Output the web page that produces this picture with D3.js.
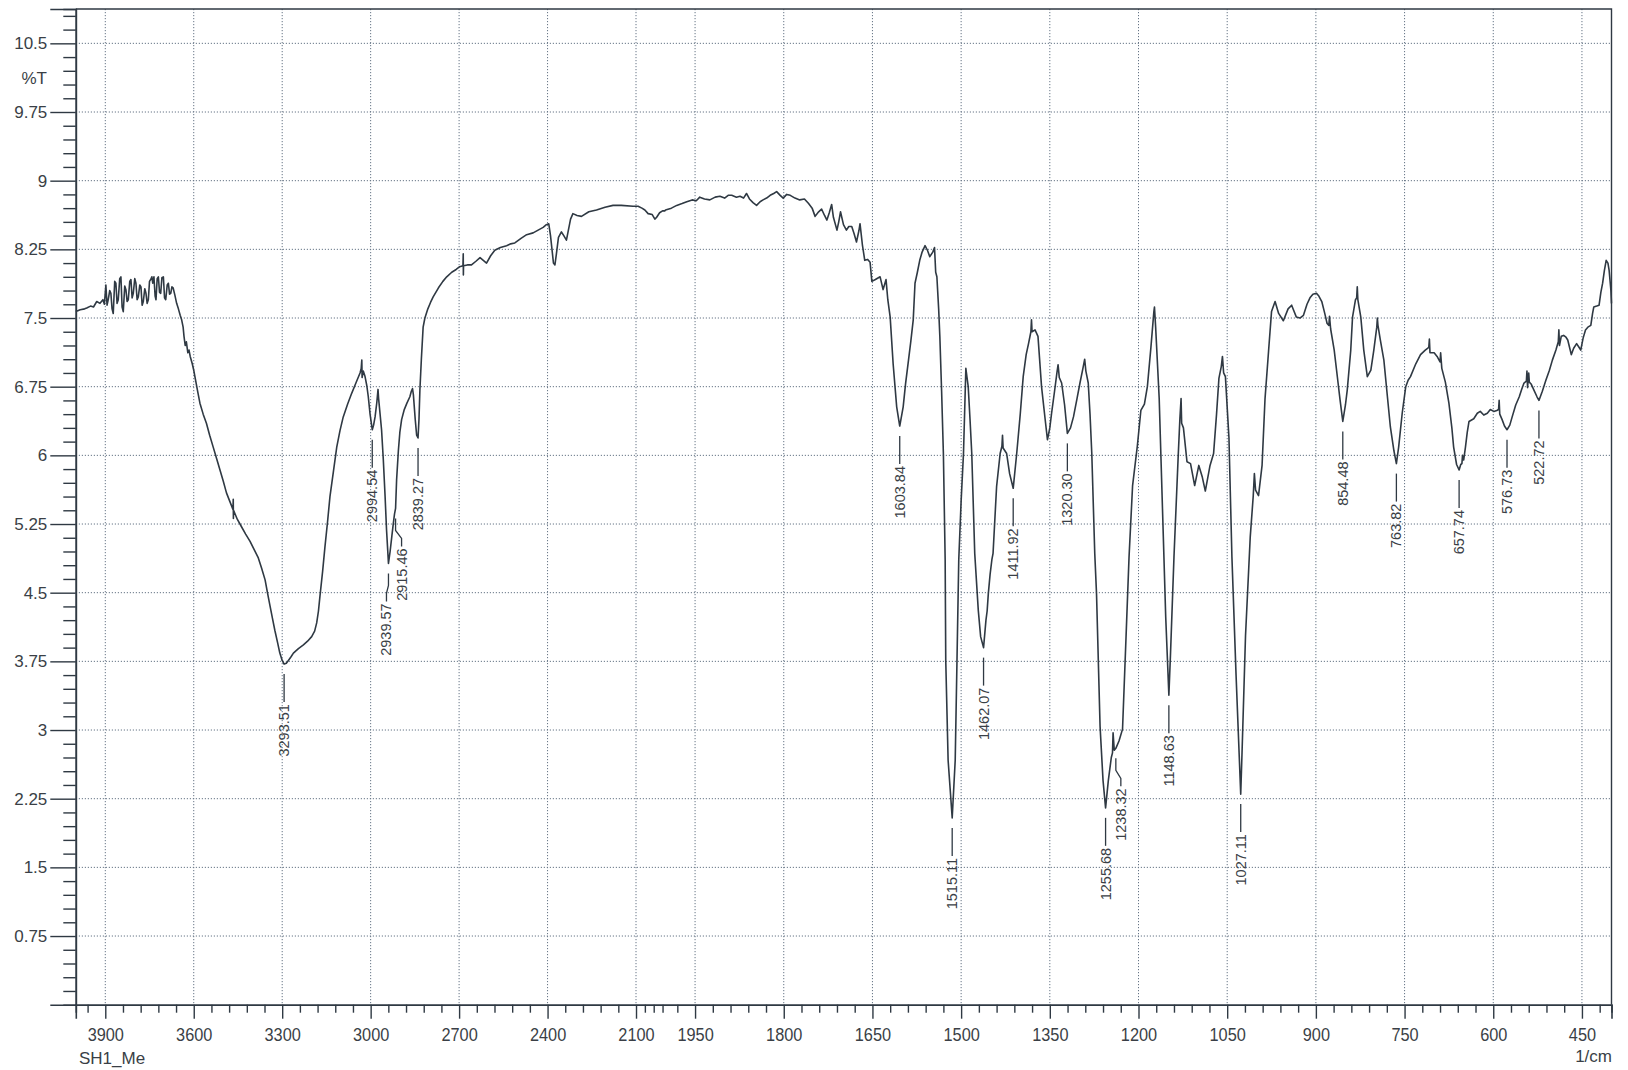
<!DOCTYPE html>
<html>
<head>
<meta charset="utf-8">
<script src="https://cdn.jsdelivr.net/npm/d3@7"></script>
<style>
  html, body { margin: 0; padding: 0; background: #ffffff; }
  svg { display: block; }
  text { font-family: "Liberation Sans", Arial, sans-serif; fill: #3a3f46; }
</style>
</head>
<body>
<svg id="chart" width="1628" height="1070"></svg>
<script>
// ---- Spectrum data: [wavenumber (1/cm), %T] ----
// O–H / C–H stretching region
const spectrumHigh = [
  [4000,7.57],[3985,7.59],[3970,7.60],[3963,7.61],[3950,7.63],[3940,7.62],[3929,7.68],[3918,7.66],[3908,7.70],[3903,7.65],
  [3898,7.86],[3894,7.64],[3890,7.70],[3885,7.80],[3881,7.77],[3877,7.60],[3873,7.55],[3868,7.90],[3864,7.88],[3860,7.66],
  [3856,7.70],[3851,7.93],[3847,7.95],[3843,7.62],[3839,7.57],[3834,7.85],[3830,7.81],[3826,7.68],[3822,7.70],[3817,7.90],
  [3813,7.92],[3809,7.72],[3805,7.77],[3800,7.93],[3796,7.88],[3792,7.70],[3788,7.73],[3783,7.86],[3779,7.84],[3775,7.64],
  [3771,7.68],[3766,7.82],[3762,7.77],[3758,7.66],[3754,7.70],[3750,7.90],[3746,7.92],[3742,7.95],[3739,7.88],[3735,7.95],
  [3731,7.74],[3728,7.70],[3724,7.93],[3720,7.95],[3716,7.78],[3712,7.77],[3708,7.94],[3703,7.95],[3699,7.72],[3695,7.70],
  [3690,7.86],[3686,7.88],[3682,7.76],[3678,7.77],[3674,7.84],[3670,7.83],
  [3664,7.75],[3658,7.66],[3652,7.60],[3646,7.53],[3641,7.48],[3636,7.40],[3633,7.30],[3629,7.20],[3625,7.24],[3620,7.12],
  [3616,7.15],[3612,7.08],[3605,7.00],[3600,6.93],[3596,6.86],[3588,6.72],[3579,6.57],[3568,6.45],[3557,6.35],[3546,6.22],
  [3534,6.09],[3522,5.96],[3511,5.84],[3500,5.72],[3489,5.59],[3478,5.50],[3467,5.41],[3466,5.52],[3465.5,5.31],[3465,5.40],
  [3452,5.30],[3438,5.22],[3424,5.14],[3409,5.06],[3395,4.97],[3381,4.88],[3370,4.77],[3358,4.64],[3350,4.50],[3341,4.35],
  [3333,4.22],[3325,4.09],[3316,3.96],[3308,3.84],[3300,3.76],[3293.51,3.72],[3286,3.73],[3279,3.76],[3270,3.80],[3262,3.84],
  [3245,3.89],[3228,3.93],[3214,3.97],[3200,4.02],[3190,4.08],[3183,4.17],[3177,4.30],[3172,4.46],[3163,4.73],[3155,5.00],
  [3146,5.28],[3138,5.55],[3126,5.83],[3115,6.09],[3104,6.27],[3093,6.42],[3078,6.56],[3064,6.68],[3050,6.79],[3036,6.90],
  [3032,6.95],[3030,7.04],[3029,6.85],[3025,6.92],[3019,6.86],[3013,6.76],[3008,6.64],[3002,6.45],[2994.54,6.28],[2990,6.33],
  [2985,6.42],[2979,6.58],[2975,6.72],[2973,6.62],[2968,6.45],[2963,6.28],[2957,5.95],[2951,5.55],[2946,5.18],[2939.57,4.82],
  [2934,4.95],[2928,5.12],[2923,5.26],[2919,5.36],[2915.46,5.42],[2912,5.73],[2906,6.05],[2901,6.25],[2895,6.39],[2886,6.50],
  [2877,6.57],[2867,6.64],[2862,6.70],[2858,6.73],[2855,6.66],[2849,6.40],[2844,6.22],[2839.27,6.19],[2836,6.40],[2833,6.71],
  [2828,7.05],[2822,7.40],[2816,7.50],[2806,7.60],[2797,7.67],[2788,7.73],[2770,7.83],[2755,7.90],[2742,7.95],[2725,8.00],
  [2710,8.03],[2698,8.06],[2687,8.07],[2686,8.20],[2685.5,7.97],[2685,8.07],[2672,8.08],[2658,8.08],[2643,8.12],[2629,8.16],
  [2618,8.13],[2607,8.10],[2593,8.18],[2579,8.24],[2560,8.27],[2539,8.29],[2525,8.31],[2511,8.32],[2490,8.37],[2471,8.41],
  [2449,8.43],[2432,8.46],[2415,8.49],[2404,8.52],[2396,8.53],[2390,8.40],[2385,8.25],[2380,8.10],[2375,8.08],[2370,8.20],
  [2363,8.38],[2353,8.44],[2345,8.40],[2336,8.35],[2330,8.45],[2322,8.58],[2314,8.64],[2300,8.62],[2285,8.61],[2260,8.66],
  [2234,8.68],[2205,8.71],[2178,8.73],[2150,8.73],[2110,8.72],[2093,8.72],[2080,8.70],[2070,8.68],[2059,8.64],[2045,8.63],
  [2036,8.58],[2030,8.60],[2020,8.65],[2010,8.67],[2002,8.67]
];

// Fingerprint region
const spectrumLow = [
  [2000,8.68],[1990,8.70],[1981,8.73],[1972,8.75],[1964,8.77],[1955,8.79],[1948,8.78],[1942,8.82],[1934,8.80],[1925,8.79],
  [1916,8.82],[1908,8.83],[1900,8.81],[1894,8.84],[1888,8.84],[1880,8.82],[1874,8.83],[1868,8.81],[1863,8.86],[1858,8.80],
  [1852,8.76],[1846,8.73],[1840,8.77],[1835,8.79],[1829,8.81],[1823,8.84],[1817,8.86],[1812,8.88],[1806,8.84],[1801,8.81],
  [1795,8.85],[1789,8.84],[1781,8.81],[1773,8.79],[1765,8.80],[1758,8.75],[1752,8.70],[1747,8.61],[1741,8.66],[1736,8.69],
  [1731,8.62],[1727,8.57],[1723,8.65],[1719,8.74],[1716,8.60],[1710,8.46],[1707,8.55],[1704,8.66],[1699,8.52],[1694,8.46],
  [1690,8.50],[1685,8.50],[1681,8.42],[1677,8.33],[1673,8.45],[1671,8.53],[1667,8.30],[1663,8.13],[1658,8.14],[1654,8.11],
  [1651,7.90],[1645,7.92],[1637,7.95],[1632,7.81],[1627,7.92],[1624,7.70],[1620,7.51],[1615,7.00],[1609,6.53],[1603.84,6.32],
  [1598,6.53],[1594,6.78],[1589,7.04],[1585,7.25],[1581,7.48],[1578,7.88],[1574,8.00],[1570,8.13],[1566,8.22],[1561,8.29],
  [1557,8.24],[1553,8.17],[1548,8.22],[1545,8.27],[1543,8.00],[1541,7.95],[1538,7.60],[1536,7.30],[1533,6.70],[1530,6.02],
  [1527,4.86],[1526,3.76],[1522,2.67],[1515.11,2.04],[1510,2.67],[1507,3.76],[1504,4.86],[1500,5.50],[1496,6.02],[1492,6.95],
  [1490,6.85],[1488,6.75],[1485,6.40],[1482,6.02],[1477,4.93],[1471,4.31],[1467,4.02],[1462.07,3.90],[1458,4.20],[1456,4.30],
  [1454,4.49],[1451,4.70],[1448,4.86],[1446,4.93],[1440,5.66],[1434,6.02],[1431,6.10],[1430,6.22],[1429,6.08],[1423,6.02],
  [1418,5.80],[1411.92,5.64],[1406,6.02],[1400,6.45],[1395,6.86],[1390,7.10],[1386,7.22],[1382,7.35],[1381,7.48],[1380,7.35],
  [1375,7.37],[1370,7.30],[1364,6.75],[1358,6.40],[1354,6.17],[1350,6.30],[1347,6.46],[1342,6.70],[1338,6.90],[1336,6.99],
  [1334,6.85],[1330,6.79],[1325,6.55],[1320.30,6.24],[1315,6.30],[1310,6.42],[1304,6.62],[1299,6.79],[1294,6.95],[1291,7.05],
  [1289,6.92],[1285,6.79],[1282,6.45],[1279,6.02],[1274,4.93],[1271,4.49],[1265,3.04],[1260,2.45],[1255.68,2.15],[1251,2.45],
  [1246,2.70],[1244,2.75],[1243,2.97],[1241,2.78],[1238.32,2.80],[1233,2.88],[1227,3.01],[1221,4.03],[1216,4.89],[1210,5.67],
  [1202,6.10],[1196,6.49],[1190,6.56],[1185,6.75],[1179,7.18],[1174,7.57],[1173,7.62],[1171,7.40],[1165,6.62],[1160,5.54],
  [1154,4.24],[1148.63,3.38],[1146,3.81],[1140,4.89],[1133,5.97],[1130,6.40],[1128,6.62],[1127,6.35],[1124,6.30],[1118,5.93],
  [1112,5.91],[1105,5.67],[1098,5.89],[1092,5.76],[1087,5.61],[1079,5.89],[1073,6.02],[1068,6.45],[1064,6.84],[1060,6.97],
  [1058,7.08],[1056,6.90],[1053,6.86],[1047,6.19],[1042,4.89],[1035,3.60],[1027.11,2.30],[1025,2.73],[1019,4.03],[1011,5.11],
  [1006,5.55],[1004,5.80],[1002,5.62],[997,5.56],[991,5.89],[986,6.62],[980,7.14],[975,7.57],[969,7.68],[963,7.55],
  [955,7.47],[947,7.60],[941,7.64],[933,7.51],[927,7.50],[921,7.53],[915,7.65],[910,7.72],[905,7.76],[899,7.77],
  [895,7.74],[890,7.68],[885,7.55],[881,7.44],[878,7.42],[877,7.52],[875,7.38],[869,7.15],[863,6.82],[859,6.60],
  [854.48,6.37],[850,6.55],[847,6.71],[841,7.15],[838,7.51],[833,7.70],[831,7.72],[830,7.84],[829,7.70],[824,7.51],
  [819,7.15],[813,6.86],[807,6.93],[802,7.15],[797,7.40],[796,7.50],[795,7.42],[791,7.26],[785,7.04],[779,6.64],
  [774,6.31],[768,6.05],[763.82,5.91],[760,6.09],[754,6.46],[748,6.75],[744,6.82],[740,6.86],[731,7.00],[723,7.10],
  [715,7.15],[709,7.18],[708,7.27],[707,7.12],[700,7.12],[695,7.08],[690,7.02],[689,7.12],[687,6.95],[681,6.80],
  [675,6.57],[670,6.30],[667,6.09],[662,5.90],[657.74,5.84],[655,5.90],[653,5.91],[652,6.00],[650,5.95],[647,6.09],
  [644,6.25],[641,6.37],[633,6.40],[627,6.46],[622,6.48],[616,6.44],[610,6.46],[605,6.50],[599,6.48],[594,6.49],
  [591,6.50],[590,6.60],[589,6.45],[585,6.39],[581,6.32],[576.73,6.28],[572,6.33],[568,6.42],[562,6.55],[556,6.64],
  [552,6.72],[548,6.79],[544,6.81],[543,6.92],[542,6.74],[540,6.90],[539,6.80],[536,6.78],[531,6.71],[526,6.64],
  [522.72,6.60],[517,6.70],[511,6.82],[505,6.93],[500,7.04],[494,7.15],[490,7.24],[489,7.37],[488,7.20],[485,7.30],
  [481,7.31],[477,7.29],[474,7.26],[471,7.18],[468,7.10],[464,7.17],[459,7.22],[455,7.18],[452,7.15],[448,7.28],
  [444,7.37],[440,7.40],[435,7.42],[432,7.55],[430,7.62],[425,7.63],[421,7.64],[418,7.78],[415,7.88],[412,8.02],
  [409,8.13],[406,8.10],[404,8.02],[401,7.80],[400,7.66]
];

// Annotated absorption minima (1/cm)
const peakWavenumbers = [
  3293.51, 2994.54, 2939.57, 2915.46, 2839.27, 1603.84, 1515.11, 1462.07, 1411.92, 1320.30,
  1255.68, 1238.32, 1148.63, 1027.11, 854.48, 763.82, 657.74, 576.73, 522.72
];

// Axis ticks
const xMajorTicks = [3900, 3600, 3300, 3000, 2700, 2400, 2100, 1950, 1800, 1650, 1500, 1350, 1200, 1050, 900, 750, 600, 450];
const yMajorTicks = [0.75, 1.5, 2.25, 3, 3.75, 4.5, 5.25, 6, 6.75, 7.5, 8.25, 9, 9.75, 10.5];
const yTickLabels = ["0.75", "1.5", "2.25", "3", "3.75", "4.5", "5.25", "6", "6.75", "7.5", "8.25", "9", "9.75", "10.5"];

// ---- Layout ----
const plotLeft = 75.8, plotRight = 1611.5, plotTop = 9, plotBottom = 1004.7;
const ink = "#2f3943";
const gridColor = "#667586";

const svg = d3.select("#chart");

// Split wavenumber axis: 4000–2000 compressed, 2000–400 expanded x2
const x = d3.scaleLinear().domain([4000, 2000, 400]).range([plotLeft, 665.5, plotRight]);
const y = d3.scaleLinear().domain([0, 10.875]).range([plotBottom, plotTop]);

// Minor tick sets
const xMinorTicks = d3.range(3960, 2100, -60)
  .concat([2070, 2040, 2010])
  .concat(d3.range(1980, 400, -30))
  .filter(v => !xMajorTicks.includes(v));
const yMinorTicks = d3.range(1, 73).map(i => +(i * 0.15).toFixed(2))
  .filter(v => !yMajorTicks.some(m => Math.abs(m - v) < 1e-6));

// Grid
const grid = svg.append("g").attr("class", "grid")
  .attr("stroke", gridColor).attr("stroke-width", 1).attr("stroke-dasharray", "1.2,1.8");
grid.selectAll("line.h").data(yMajorTicks).join("line").attr("class", "h")
  .attr("x1", plotLeft).attr("x2", plotRight)
  .attr("y1", d => y(d)).attr("y2", d => y(d));
grid.selectAll("line.v").data(xMajorTicks).join("line").attr("class", "v")
  .attr("x1", d => x(d)).attr("x2", d => x(d))
  .attr("y1", plotTop).attr("y2", plotBottom);

// Frame (top and right)
svg.append("path")
  .attr("d", `M${plotLeft},${plotTop}H${plotRight}V${plotBottom}`)
  .attr("fill", "none").attr("stroke", ink).attr("stroke-width", 1.4);

// Y axis
const yAxisMinor = d3.axisLeft(y).tickValues(yMinorTicks).tickSize(12.5).tickFormat("");
const yAxisMajor = d3.axisLeft(y).tickValues(yMajorTicks).tickSize(25.5).tickPadding(3)
  .tickFormat((d, i) => yTickLabels[i]);
const gyMinor = svg.append("g").attr("transform", `translate(${plotLeft},0)`).call(yAxisMinor);
const gyMajor = svg.append("g").attr("transform", `translate(${plotLeft},0)`).call(yAxisMajor);
[gyMinor, gyMajor].forEach(g => {
  g.select(".domain").attr("stroke", ink).attr("stroke-width", 1.6);
  g.selectAll(".tick line").attr("stroke", ink).attr("stroke-width", 1.4);
});
gyMajor.selectAll(".tick text")
  .attr("font-family", "'Liberation Sans', Arial, sans-serif")
  .attr("font-size", 17).attr("fill", "#3a3f46");

svg.append("text").attr("x", 47).attr("y", 78).attr("text-anchor", "end")
  .attr("dominant-baseline", "central").attr("font-size", 17).text("%T");

// X axis
const xAxisMinor = d3.axisBottom(x).tickValues(xMinorTicks).tickSize(8).tickFormat("");
const xAxisMajor = d3.axisBottom(x).tickValues(xMajorTicks).tickSize(14).tickPadding(9)
  .tickFormat(d3.format("d"));
const gxMinor = svg.append("g").attr("transform", `translate(0,${plotBottom})`).call(xAxisMinor);
const gxMajor = svg.append("g").attr("transform", `translate(0,${plotBottom})`).call(xAxisMajor);
[gxMinor, gxMajor].forEach(g => {
  g.select(".domain").attr("stroke", ink).attr("stroke-width", 1.6);
  g.selectAll(".tick line").attr("stroke", ink).attr("stroke-width", 1.4);
});
gxMajor.selectAll(".tick text")
  .attr("font-family", "'Liberation Sans', Arial, sans-serif")
  .attr("font-size", 19).attr("fill", "#3a3f46")
  .attr("transform", "scale(0.86,1)")
  .attr("x", 0);

svg.append("text").attr("x", 79).attr("y", 1064).attr("font-size", 17).text("SH1_Me");
svg.append("text").attr("x", 1612).attr("y", 1062).attr("text-anchor", "end").attr("font-size", 17).text("1/cm");

// Spectrum trace
const spectrum = spectrumHigh.concat(spectrumLow);
const line = d3.line().x(d => x(d[0])).y(d => y(d[1]));
svg.append("path").datum(spectrum)
  .attr("d", line)
  .attr("fill", "none").attr("stroke", ink).attr("stroke-width", 1.6)
  .attr("stroke-linejoin", "round");

// Peak annotations: leader below each minimum, rotated wavenumber text
const textNudge = { 2939.57: -2, 2915.46: 6, 1238.32: 5 };
const valueAt = wn => {
  const i = spectrum.findIndex(d => d[0] <= wn);
  const a = spectrum[i - 1], b = spectrum[i];
  if (!a || b[0] === wn) return b[1];
  return a[1] + (b[1] - a[1]) * (a[0] - wn) / (a[0] - b[0]);
};
const peaks = svg.append("g").attr("class", "peaks");
peakWavenumbers.forEach(wn => {
  const px = x(wn);
  const py = y(valueAt(wn));
  const dx = textNudge[wn] || 0;
  const y1 = py + 10, y2 = py + 38;
  peaks.append("path")
    .attr("d", dx ? `M${px},${y1}V${y1 + 12}L${px + dx},${y1 + 20}V${y2}` : `M${px},${y1}V${y2}`)
    .attr("fill", "none").attr("stroke", ink).attr("stroke-width", 1.3);
  peaks.append("text")
    .attr("transform", `translate(${px + dx},${y2 + 2}) rotate(-90)`)
    .attr("text-anchor", "end").attr("dominant-baseline", "central")
    .attr("font-size", 14.5).attr("fill", "#3a3f46")
    .text(wn.toFixed(2));
});
</script>
</body>
</html>
